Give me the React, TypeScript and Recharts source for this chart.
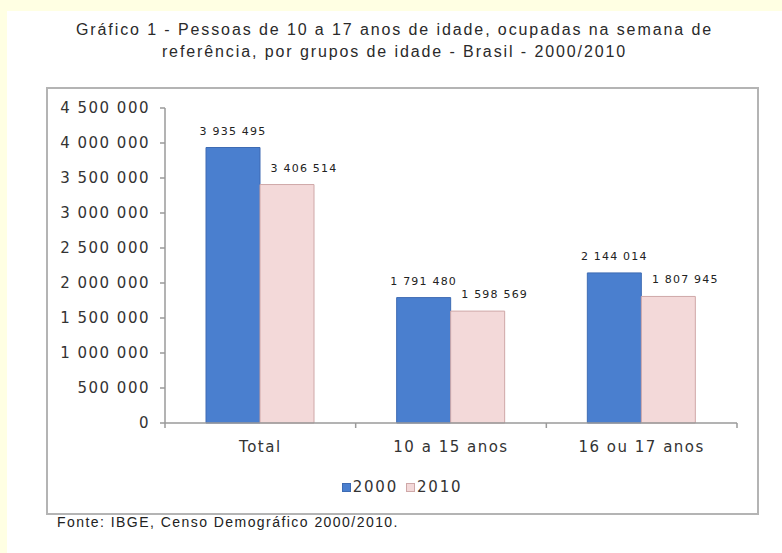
import React from 'react';
import { BarChart, Bar, XAxis, YAxis, LabelList } from 'recharts';

const categories = ['Total', '10 a 15 anos', '16 ou 17 anos'];
const values2000 = [3935495, 1791480, 2144014];
const values2010 = [3406514, 1598569, 1807945];
const yTicks = [0, 500000, 1000000, 1500000, 2000000, 2500000, 3000000, 3500000, 4000000, 4500000];
const seriesNames = ['2000', '2010'];
const titleLines = [
  'Gráfico 1 - Pessoas de 10 a 17 anos de idade, ocupadas na semana de',
  'referência, por grupos de idade - Brasil - 2000/2010',
];
const sourceText = 'Fonte: IBGE, Censo Demográfico 2000/2010.';

const data = categories.map((c, i) => ({ name: c, v2000: values2000[i], v2010: values2010[i] }));

const BLUE = '#4a7fcf';
const BLUE_STROKE = '#3e6bb3';
const PINK = '#f3d9d9';
const PINK_STROKE = '#cfa8a8';
const AXIS = '#9a9a9a';
const TEXT = '#333333';
const FONT = '"DejaVu Sans", Verdana, sans-serif';
const SANS = '"Liberation Sans", Arial, sans-serif';

const CHART_W = 782;
const CHART_H = 553;
const MARGIN = { top: 108, right: 45, left: 45, bottom: 100 };
const Y_W = 120;
const X_H = 30;
const PLOT_W = CHART_W - MARGIN.left - MARGIN.right - Y_W;

const fmt = (v: number) => String(v).replace(/\B(?=(\d{3})+(?!\d))/g, ' ');

const XTick = (props: any) => {
  const { x, y, payload, index } = props;
  const half = PLOT_W / categories.length / 2;
  return (
    <g>
      <line x1={x - half} y1={y} x2={x - half} y2={y + 5} stroke={AXIS} strokeWidth={1.5} />
      {index === categories.length - 1 && (
        <line x1={x + half} y1={y} x2={x + half} y2={y + 5} stroke={AXIS} strokeWidth={1.5} />
      )}
      <text x={x} y={y + 24} textAnchor="middle" dominantBaseline="middle" fill={TEXT}
        style={{ fontFamily: FONT, fontSize: 15, letterSpacing: 1.5 }}>
        {payload.value}
      </text>
    </g>
  );
};

const makeLabel = (dx: number) => (props: any) => {
  const { x, y, width, value } = props;
  return (
    <text x={x + width / 2 + dx} y={y - 13} textAnchor="middle" fill="#222"
      style={{ fontFamily: FONT, fontSize: 11, letterSpacing: 1.2 }}>
      {fmt(value)}
    </text>
  );
};

export default function App() {
  return (
    <div style={{ position: 'absolute', left: 0, top: 0, width: 782, height: 553, background: '#ffffe3', overflow: 'hidden' }}>
      <div style={{ position: 'absolute', left: 7, top: 11, width: 775, height: 542, background: '#ffffff' }} />
      {titleLines.map((t, i) => (
        <div key={i} style={{
          position: 'absolute', left: 7, width: 775, top: 19 + i * 22, height: 22, lineHeight: '22px',
          textAlign: 'center', fontFamily: SANS, fontSize: 16,
          letterSpacing: 1.9, color: '#2a2a2a', whiteSpace: 'nowrap',
        }}>{t}</div>
      ))}
      <div style={{ position: 'absolute', left: 46, top: 87, width: 709, height: 424, border: '2px solid #b4b4b4' }} />
      <div style={{ position: 'absolute', left: 0, top: 0 }}>
        <BarChart width={CHART_W} height={CHART_H} data={data} margin={MARGIN} barGap={0} barSize={54}>
          <XAxis dataKey="name" height={X_H} tickLine={false} tickSize={0} tickMargin={0}
            axisLine={{ stroke: AXIS, strokeWidth: 1.5 }}
            tick={<XTick />} interval={0} />
          <YAxis width={Y_W} domain={[0, 4500000]} ticks={yTicks} tickFormatter={fmt} interval={0}
            axisLine={{ stroke: AXIS, strokeWidth: 1.5 }} tickLine={{ stroke: AXIS, strokeWidth: 1.5 }}
            tickSize={5} tickMargin={10}
            tick={{ fill: TEXT, fontSize: 15, fontFamily: FONT, letterSpacing: 1.5 }} />
          <Bar dataKey="v2000" fill={BLUE} stroke={BLUE_STROKE} strokeWidth={1} isAnimationActive={false}>
            <LabelList dataKey="v2000" content={makeLabel(0)} />
          </Bar>
          <Bar dataKey="v2010" fill={PINK} stroke={PINK_STROKE} strokeWidth={1} isAnimationActive={false}>
            <LabelList dataKey="v2010" content={makeLabel(17)} />
          </Bar>
        </BarChart>
      </div>
      <div style={{ position: 'absolute', left: 0, width: 804, top: 477, height: 20, display: 'flex', justifyContent: 'center', alignItems: 'center',
        fontFamily: FONT, fontSize: 15, letterSpacing: 1.8, color: TEXT }}>
        {seriesNames.map((s, i) => (
          <div key={s} style={{ display: 'flex', alignItems: 'center', marginLeft: i === 0 ? 0 : 8 }}>
            <span style={{ display: 'inline-block', width: 7, height: 7, background: i === 0 ? BLUE : PINK,
              border: `1px solid ${i === 0 ? BLUE_STROKE : PINK_STROKE}`, marginRight: 2 }} />
            <span>{s}</span>
          </div>
        ))}
      </div>
      <div style={{ position: 'absolute', left: 57, top: 513, fontFamily: SANS, fontSize: 14,
        letterSpacing: 1.45, color: '#222', whiteSpace: 'nowrap', lineHeight: '18px' }}>{sourceText}</div>
    </div>
  );
}
